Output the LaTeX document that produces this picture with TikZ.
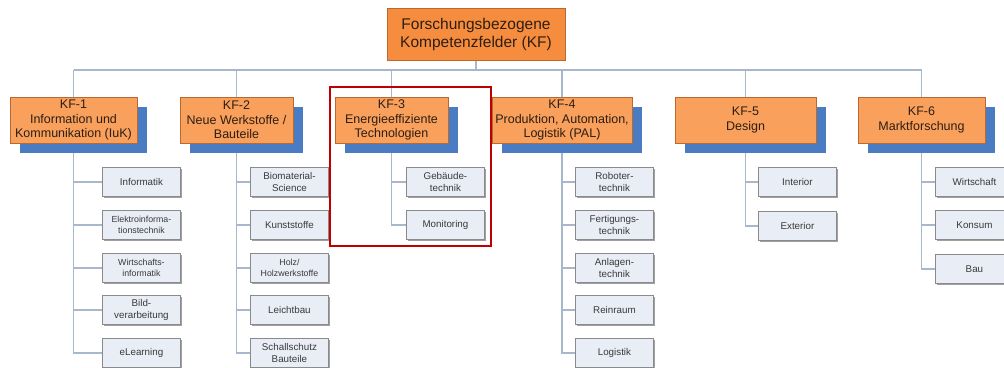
\documentclass[tikz,border=0pt]{standalone}
\usepackage{fontspec}
\setmainfont{Liberation Sans}
\usetikzlibrary{shadows,backgrounds}
\definecolor{kftop}{HTML}{F68D3E}
\definecolor{kforange}{HTML}{F8A05C}
\definecolor{kfedge}{HTML}{B8692F}
\definecolor{kfblue}{HTML}{4A7CC4}
\definecolor{kftext}{HTML}{2E1E12}
\definecolor{subfill}{HTML}{E9EDF6}
\definecolor{subedge}{HTML}{8A8A8A}
\definecolor{subshade}{HTML}{A0A0A0}
\definecolor{subtext}{HTML}{3A3A3A}
\definecolor{linkgray}{HTML}{A9B7CC}
\definecolor{framered}{HTML}{C00000}

\begin{document}
\begin{tikzpicture}[x=1pt,y=-1pt]
\tikzstyle{every node}=[align=center, inner sep=1pt]
\tikzstyle{topbox}=[draw=kfedge, fill=kftop, minimum width=178pt, minimum height=52pt, text=kftext, font=\fontsize{15.5}{18}\selectfont]
\tikzstyle{kfbox}=[draw=kfedge, fill=kforange, minimum height=46pt, text=kftext, font=\fontsize{12.5}{14.5}\selectfont, drop shadow={shadow xshift=10pt, shadow yshift=-10pt, fill=kfblue, opacity=1}]
\tikzstyle{subbox}=[draw=subedge, line width=0.9pt, fill=subfill, minimum width=78pt, minimum height=29pt, anchor=west, text=subtext, font=\fontsize{9.8}{11.7}\selectfont, drop shadow={shadow xshift=1.2pt, shadow yshift=-1.2pt, fill=subshade, opacity=1}]
\tikzstyle{subsmall}=[font=\fontsize{8.8}{10.5}\selectfont]
\tikzstyle{link}=[draw=linkgray, line width=1.3pt]
\useasboundingbox (0,0) rectangle (1004,367);

% root
\draw (476,34) node (kf) [topbox] {Forschungsbezogene\\Kompetenzfelder (KF)};

% fields
\draw (73.5,120) node (k1) [kfbox, minimum width=127pt] {KF-1\\Information und\\Kommunikation (IuK)};
\draw (236.5,120) node (k2) [kfbox, minimum width=113pt] {KF-2\\Neue Werkstoffe /\\Bauteile};
\draw (391.5,120) node (k3) [kfbox, minimum width=113pt] {KF-3\\Energieeffiziente\\Technologien};
\draw (562,120) node (k4) [kfbox, minimum width=140pt] {KF-4\\Produktion, Automation,\\Logistik (PAL)};
\draw (745.5,120) node (k5) [kfbox, minimum width=141pt] {KF-5\\Design};
\draw (921.5,120) node (k6) [kfbox, minimum width=127pt] {KF-6\\Marktforschung};

% KF-1
\draw (102,182) node (c11) [subbox] {Informatik};
\draw (102,225) node (c12) [subbox, subsmall] {Elektroinforma-\\tionstechnik};
\draw (102,268) node (c13) [subbox, subsmall] {Wirtschafts-\\informatik};
\draw (102,310) node (c14) [subbox] {Bild-\\verarbeitung};
\draw (102,353) node (c15) [subbox] {eLearning};

% KF-2
\draw (250,182) node (c21) [subbox] {Biomaterial-\\Science};
\draw (250,225) node (c22) [subbox] {Kunststoffe};
\draw (250,268) node (c23) [subbox, subsmall] {Holz/\\Holzwerkstoffe};
\draw (250,310) node (c24) [subbox] {Leichtbau};
\draw (250,353) node (c25) [subbox] {Schallschutz\\Bauteile};

% KF-3
\draw (406,182) node (c31) [subbox] {Gebäude-\\technik};
\draw (406,225) node (c32) [subbox] {Monitoring};

% KF-4
\draw (575,182) node (c41) [subbox] {Roboter-\\technik};
\draw (575,225) node (c42) [subbox] {Fertigungs-\\technik};
\draw (575,268) node (c43) [subbox] {Anlagen-\\technik};
\draw (575,310) node (c44) [subbox] {Reinraum};
\draw (575,353) node (c45) [subbox] {Logistik};

% KF-5
\draw (758,182) node (c51) [subbox] {Interior};
\draw (758,226) node (c52) [subbox] {Exterior};

% KF-6
\draw (935,182) node (c61) [subbox] {Wirtschaft};
\draw (935,225) node (c62) [subbox] {Konsum};
\draw (935,269) node (c63) [subbox] {Bau};

\begin{pgfonlayer}{background}
\coordinate (bus1) at (73.5,70);
\coordinate (bus6) at (921.5,70);
\draw[link] (kf) -- (kf |- bus1);
\draw[link] (bus1) -- (bus6);
\draw[link] (k1 |- bus1) -- (k1);
\draw[link] (k2 |- bus1) -- (k2);
\draw[link] (k3 |- bus1) -- (k3);
\draw[link] (k4 |- bus1) -- (k4);
\draw[link] (k5 |- bus1) -- (k5);
\draw[link] (k6 |- bus1) -- (k6);
% spines
\draw[link] (k1) |- (c15);
\draw[link] (k1 |- c11) -- (c11);
\draw[link] (k1 |- c12) -- (c12);
\draw[link] (k1 |- c13) -- (c13);
\draw[link] (k1 |- c14) -- (c14);
\draw[link] (k2) |- (c25);
\draw[link] (k2 |- c21) -- (c21);
\draw[link] (k2 |- c22) -- (c22);
\draw[link] (k2 |- c23) -- (c23);
\draw[link] (k2 |- c24) -- (c24);
\draw[link] (k3) |- (c32);
\draw[link] (k3 |- c31) -- (c31);
\draw[link] (k4) |- (c45);
\draw[link] (k4 |- c41) -- (c41);
\draw[link] (k4 |- c42) -- (c42);
\draw[link] (k4 |- c43) -- (c43);
\draw[link] (k4 |- c44) -- (c44);
\draw[link] (k5) |- (c52);
\draw[link] (k5 |- c51) -- (c51);
\draw[link] (k6) |- (c63);
\draw[link] (k6 |- c61) -- (c61);
\draw[link] (k6 |- c62) -- (c62);
\end{pgfonlayer}

% highlight
\draw[framered, line width=2.2pt] (330,87) rectangle (491,246);
\end{tikzpicture}
\end{document}
